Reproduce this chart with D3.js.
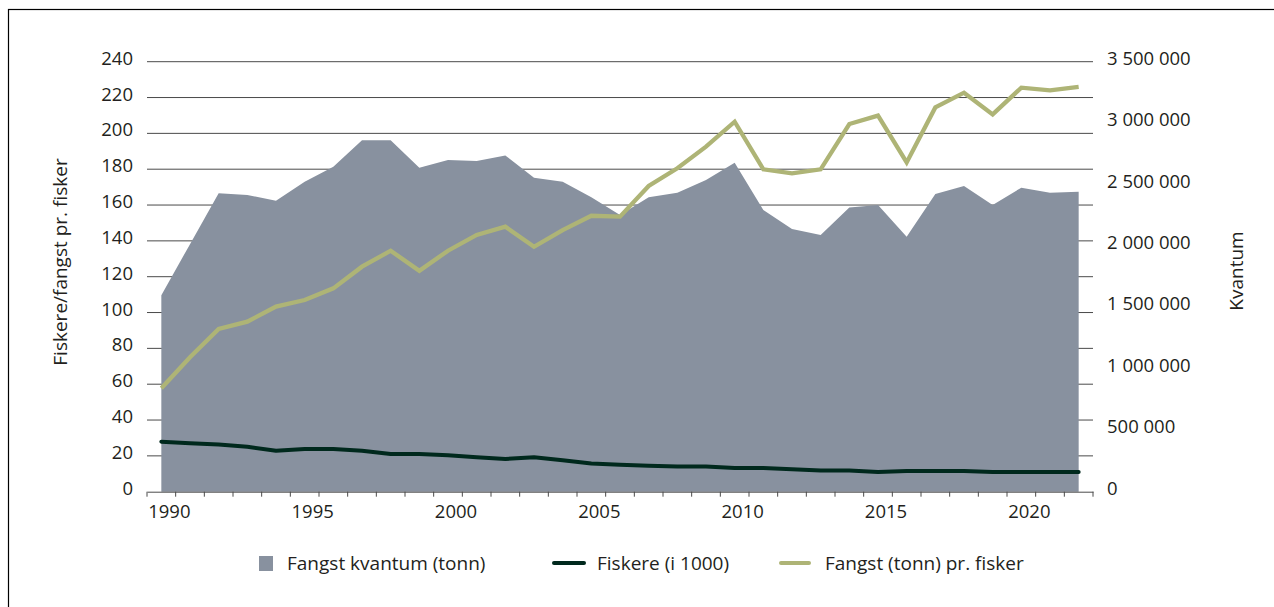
<!DOCTYPE html>
<html>
<head>
<meta charset="utf-8">
<script src="https://cdn.jsdelivr.net/npm/d3@7"></script>
<style>
  body { margin: 0; background: #fff; }
  text { font-family: "Open Sans", sans-serif; fill: #231f20; }
</style>
</head>
<body>
<div id="chart-area"></div>
<script>
// Data
var years = d3.range(1990, 2023);
// Fangst kvantum (tonn) - right axis
var kvantum = [1600000, 2015000, 2430000, 2415000, 2368000, 2523000, 2645000, 2860000, 2860000, 2637000,
               2699000, 2692000, 2737000, 2556000, 2523000, 2396000, 2252000, 2396000, 2434000, 2537000,
               2677000, 2292000, 2138000, 2090000, 2314000, 2333000, 2075000, 2424000, 2488000, 2333000,
               2475000, 2434000, 2441000];
// Fiskere (i 1000) - left axis
var fiskere = [27.9, 27.0, 26.4, 25.1, 22.9, 23.8, 23.8, 22.9, 21.0, 21.0,
               20.3, 19.2, 18.3, 19.2, 17.5, 15.8, 15.0, 14.5, 14.0, 14.0,
               13.2, 13.2, 12.5, 11.8, 11.8, 11.0, 11.5, 11.6, 11.5, 11.0,
               11.0, 11.0, 11.0];
// Fangst (tonn) pr. fisker - left axis
var prFisker = [57.7, 75, 90.8, 94.9, 103.3, 107, 113.5, 125.6, 134.5, 123.3,
                134.5, 143.3, 147.9, 136.7, 146, 154, 153.5, 170.6, 180.5, 192.6,
                206.5, 179.9, 177.7, 179.9, 205.2, 209.9, 183.8, 214.5, 222.7, 210.6,
                225.5, 224, 226];

var leftTicks = d3.range(0, 241, 20);
var rightTicks = d3.range(0, 3500001, 500000);
var yearLabels = [1990, 1995, 2000, 2005, 2010, 2015, 2020];

var W = 1274, H = 607;
var plot = { left: 147, right: 1093, top: 61.7, bottom: 491.7 };

var svg = d3.select("#chart-area")
    .append("svg")
        .attr("width", W)
        .attr("height", H);

// Frame
svg.append("rect")
    .attr("x", 8.5).attr("y", 9.5)
    .attr("width", 1400).attr("height", 800)
    .attr("fill", "none").attr("stroke", "#000").attr("stroke-width", 1.2);

// Scales
var x = d3.scaleBand()
    .domain(years)
    .range([plot.left, plot.right]);

var cx = function(d){ return x(d) + x.bandwidth() / 2; };

var yL = d3.scaleLinear().domain([0, 240]).range([plot.bottom, plot.top]);
var yR = d3.scaleLinear().domain([0, 3500000]).range([plot.bottom, plot.top]);

// Gridlines
svg.append("g").selectAll("line")
    .data(leftTicks.slice(1))
    .enter().append("line")
        .attr("x1", plot.left).attr("x2", plot.right)
        .attr("y1", function(d){ return yL(d); })
        .attr("y2", function(d){ return yL(d); })
        .attr("stroke", "#4a4a4a").attr("stroke-width", 1);

// Area
var area = d3.area()
    .x(function(d, i){ return cx(years[i]); })
    .y0(yR(0))
    .y1(function(d){ return yR(d); });

svg.append("path")
    .datum(kvantum)
    .attr("d", area)
    .attr("fill", "#88919f");

// Lines
var line = d3.line()
    .x(function(d, i){ return cx(years[i]); })
    .y(function(d){ return yL(d); });

svg.append("path")
    .datum(fiskere)
    .attr("d", line)
    .attr("fill", "none")
    .attr("stroke", "#00291d")
    .attr("stroke-width", 4)
    .attr("stroke-linejoin", "round")
    .attr("stroke-linecap", "round");

svg.append("path")
    .datum(prFisker)
    .attr("d", line)
    .attr("fill", "none")
    .attr("stroke", "#aeb476")
    .attr("stroke-width", 4.3)
    .attr("stroke-linejoin", "miter");

// X axis
var xAxisCall = d3.axisBottom(x)
    .tickSize(0)
    .tickFormat("");
var xg = svg.append("g")
    .attr("transform", "translate(0," + plot.bottom + ")")
    .call(xAxisCall);
xg.select(".domain").attr("stroke", "#4a4a4a");

// ticks at band boundaries
svg.append("g").selectAll("line")
    .data(years.concat([2023]))
    .enter().append("line")
        .attr("x1", function(d){ return d === 2023 ? plot.right : x(d); })
        .attr("x2", function(d){ return d === 2023 ? plot.right : x(d); })
        .attr("y1", plot.bottom)
        .attr("y2", plot.bottom + 5)
        .attr("stroke", "#4a4a4a");

svg.append("g").selectAll("text")
    .data(yearLabels)
    .enter().append("text")
        .attr("x", function(d){ return cx(d) + 8; })
        .attr("y", plot.bottom + 26)
        .attr("text-anchor", "middle")
        .attr("font-size", "18.5px")
        .text(function(d){ return d; });

// Left tick labels
svg.append("g").selectAll("text")
    .data(leftTicks)
    .enter().append("text")
        .attr("x", 133)
        .attr("y", function(d){ return yL(d) + 3; })
        .attr("text-anchor", "end")
        .attr("font-size", "18.5px")
        .text(function(d){ return d; });

// Right tick labels
var fmt = function(d){ return d3.format(",")(d).replace(/,/g, " "); };
svg.append("g").selectAll("text")
    .data(rightTicks)
    .enter().append("text")
        .attr("x", 1107)
        .attr("y", function(d){ return yR(d) + 3; })
        .attr("text-anchor", "start")
        .attr("font-size", "18.5px")
        .text(fmt);

// Y labels
svg.append("text")
    .attr("transform", "translate(60,262) rotate(-90)")
    .attr("text-anchor", "middle")
    .attr("dy", "0.35em")
    .attr("font-size", "19px")
    .text("Fiskere/fangst pr. fisker");

svg.append("text")
    .attr("transform", "translate(1236,271) rotate(-90)")
    .attr("text-anchor", "middle")
    .attr("dy", "0.35em")
    .attr("font-size", "19px")
    .text("Kvantum");

// Legend
var legend = svg.append("g");
legend.append("rect")
    .attr("x", 259).attr("y", 556)
    .attr("width", 14).attr("height", 15)
    .attr("fill", "#88919f");
legend.append("text")
    .attr("x", 287).attr("y", 563).attr("dy", "0.35em")
    .attr("font-size", "19px")
    .text("Fangst kvantum (tonn)");

legend.append("line")
    .attr("x1", 554).attr("x2", 584)
    .attr("y1", 563).attr("y2", 563)
    .attr("stroke", "#00291d").attr("stroke-width", 4)
    .attr("stroke-linecap", "round");
legend.append("text")
    .attr("x", 597).attr("y", 563).attr("dy", "0.35em")
    .attr("font-size", "19px")
    .text("Fiskere (i 1000)");

legend.append("line")
    .attr("x1", 781).attr("x2", 809)
    .attr("y1", 563).attr("y2", 563)
    .attr("stroke", "#aeb476").attr("stroke-width", 4)
    .attr("stroke-linecap", "round");
legend.append("text")
    .attr("x", 825).attr("y", 563).attr("dy", "0.35em")
    .attr("font-size", "19px")
    .text("Fangst (tonn) pr. fisker");
</script>
</body>
</html>
